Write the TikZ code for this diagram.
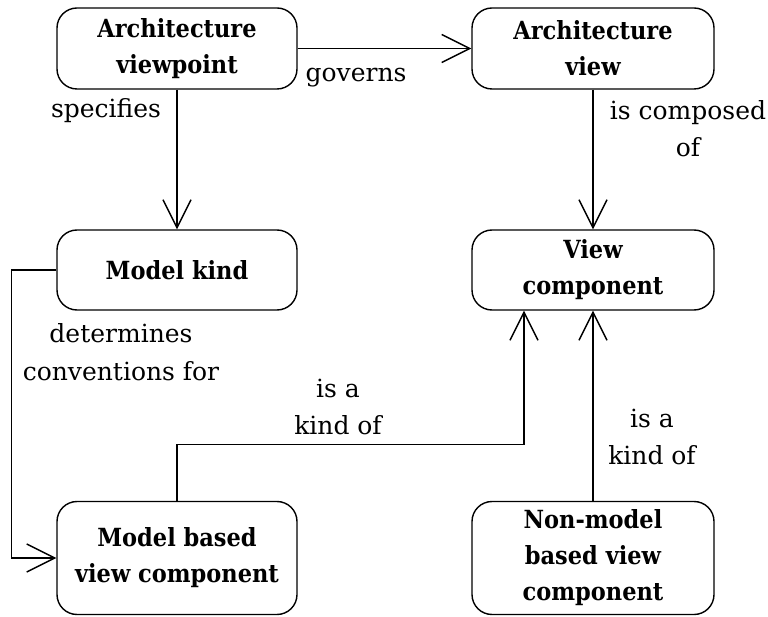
\documentclass[tikz,border=0pt]{standalone}
\usepackage{fontspec}
\setmainfont{DejaVu Serif}[BoldFeatures={FakeStretch=0.9}]
\usetikzlibrary{arrows.meta}
\begin{document}
\begin{tikzpicture}[x=1pt,y=-1pt,
  box/.style={draw, line width=1.4pt, rounded corners=20pt, align=center,
    font=\fontsize{25}{36}\selectfont\bfseries, inner sep=0pt},
  lbl/.style={anchor=base, inner sep=0pt, font=\fontsize{25}{37}\selectfont},
  conn/.style={line width=1.4pt, -{Straight Barb[length=28pt,width=28pt,line width=1.4pt]}}]
\useasboundingbox (0,0) rectangle (768,617);
\node[box, minimum width=240pt, minimum height=81pt] (avp) at (177,48.5) {Architecture\\viewpoint};
\node[box, minimum width=242pt, minimum height=81pt] (av) at (593,48.5) {Architecture\\view};
\node[box, minimum width=240pt, minimum height=80pt] (mk) at (177,270) {Model kind};
\node[box, minimum width=242pt, minimum height=80pt] (vc) at (593,270) {View\\component};
\node[box, minimum width=240pt, minimum height=113pt] (mb) at (177,558) {Model based\\view component};
\node[box, minimum width=242pt, minimum height=113pt] (nm) at (593,558) {Non-model\\based view\\component};

\draw[conn] (avp.east) -- (av.west);
\draw[conn] (avp.south) -- (mk.north);
\draw[conn] (av.south) -- (vc.north);
\draw[conn] (mk.west) -- ++(-45,0) coordinate (c1) |- (mb.west);
\draw[conn] (mb.north) -- ++(0,-56.5) coordinate (c2) -| ([xshift=-69pt]vc.south);
\draw[conn] (nm.north) -- (vc.south);

\node[lbl] (l1) at (356,82) {governs};
\node[lbl] (l2) at (106,118) {specifies};
\node[lbl] (l3) at (688,120) {\begin{tabular}[t]{@{}c@{}}is composed\\of\end{tabular}};
\node[lbl] (l4) at (121,343) {\begin{tabular}[t]{@{}c@{}}determines\\conventions for\end{tabular}};
\node[lbl] (l5) at (338,397) {\begin{tabular}[t]{@{}c@{}}is a\\kind of\end{tabular}};
\node[lbl] (l6) at (652,427) {\begin{tabular}[t]{@{}c@{}}is a\\kind of\end{tabular}};
\end{tikzpicture}
\end{document}
